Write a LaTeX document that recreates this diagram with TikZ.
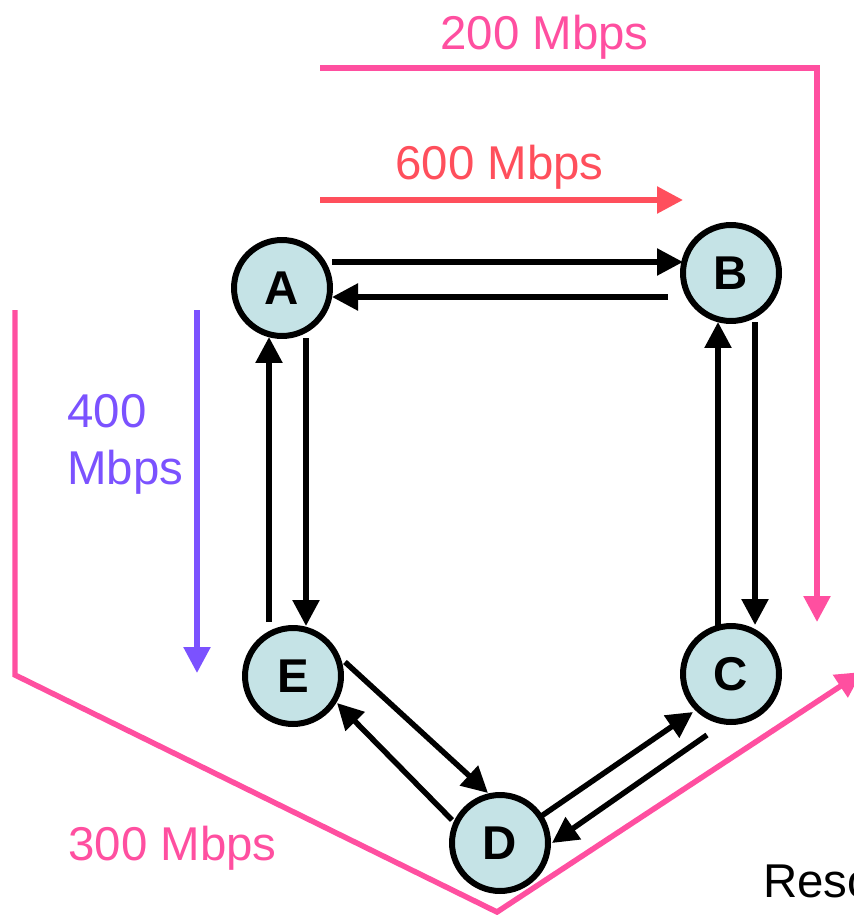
\documentclass[tikz,border=0pt]{standalone}
\usepackage{fontspec}
\setmainfont{Liberation Sans}
\usetikzlibrary{arrows.meta,calc}

\definecolor{hubfill}{HTML}{C5E3E6}
\definecolor{ratepink}{HTML}{FF4FA0}
\definecolor{ratered}{HTML}{FF4F5C}
\definecolor{ratepurple}{HTML}{7B52FF}

\begin{document}
\begin{tikzpicture}[x=0.02cm,y=-0.02cm,>={Triangle[length=0.52cm,width=0.52cm]},line join=miter]
  \tikzset{
    hub/.style={circle,draw=black,line width=0.12cm,fill=hubfill,minimum size=1.92cm,
      inner sep=0pt,font=\fontsize{27}{32}\selectfont\bfseries},
    link/.style={->,line width=0.11cm},
    flow/.style={->,line width=0.11cm},
    rate/.style={anchor=base west,inner sep=0pt,font=\fontsize{27}{32.4}\selectfont}
  }

  \useasboundingbox (0,0) rectangle (854,915);
  \clip (0,0) rectangle (854,915);

  % the five hubs of the ring
  \node[hub] (A) at (282,288) {A};
  \node[hub] (B) at (731,273) {B};
  \node[hub] (C) at (731,674) {C};
  \node[hub] (D) at (500,843) {D};
  \node[hub] (E) at (293,676) {E};

  % both directions on every link
  \draw[link] ($(A)+(50,-26)$) -- ($(B)+(-48,-11)$);
  \draw[link] ($(B)+(-63,24)$) -- ($(A)+(50,9)$);
  \draw[link] ($(A)+(24,50)$) -- ($(E)+(13,-50)$);
  \draw[link] ($(E)+(-24,-54)$) -- ($(A)+(-13,49)$);
  \draw[link] ($(B)+(24,49)$) -- ($(C)+(24,-49)$);
  \draw[link] ($(C)+(-13,-47)$) -- ($(B)+(-13,49)$);
  \draw[link] ($(E)+(52,-14)$) -- ($(D)+(-12,-50)$);
  \draw[link] ($(D)+(-48,-23)$) -- ($(E)+(44,27)$);
  \draw[link] ($(D)+(40,-26)$) -- ($(C)+(-38,38)$);
  \draw[link] ($(C)+(-24,61)$) -- ($(D)+(52,0)$);

  % flows and their rates
  \draw[flow,ratered] (320,200) -- (683,200);
  \node[rate,text=ratered] (r600) at (395,180) {600 Mbps};

  \draw[flow,ratepink] (320,68) -- (817,68) -- (817,622);
  \node[rate,text=ratepink] (r200) at (440,50) {200 Mbps};

  \draw[flow,ratepurple] (197,310) -- (197,673);
  \node[anchor=north west,inner sep=0pt,align=left,text=ratepurple,
    font=\fontsize{27}{32.4}\selectfont] (r400) at (67,394) {400\\Mbps};

  \draw[flow,ratepink] (15,310) -- (15,675) -- (497,912) -- (862,672);
  \node[rate,text=ratepink] (r300) at (68,860) {300 Mbps};

  \node[rate] (note) at (763,897) {Reso};
\end{tikzpicture}
\end{document}
